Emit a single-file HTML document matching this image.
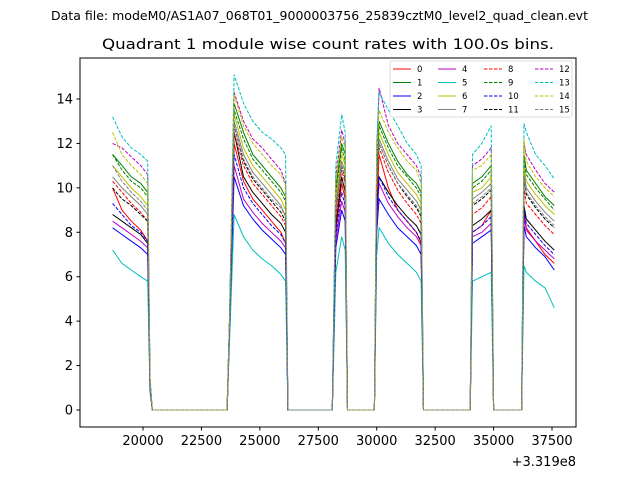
<!DOCTYPE html>
<html><head><meta charset="utf-8"><style>
html,body{margin:0;padding:0;background:#fff;}
svg text{font-family:"DejaVu Sans","Liberation Sans",sans-serif;}
</style></head><body>
<svg id="chart" width="640" height="480" xmlns="http://www.w3.org/2000/svg">
<rect width="640" height="480" fill="#fff"/>
<text x="51" y="20" font-size="12" textLength="537" lengthAdjust="spacingAndGlyphs">Data file: modeM0/AS1A07_068T01_9000003756_25839cztM0_level2_quad_clean.evt</text>
<text x="102" y="49" font-size="14.5" textLength="452" lengthAdjust="spacingAndGlyphs">Quadrant 1 module wise count rates with 100.0s bins.</text>
<g id="plot"></g>
<rect x="80" y="58" width="496" height="369" fill="none" stroke="#000" stroke-width="1"/>
<g id="ticks"></g>
<text x="576" y="466" font-size="13" text-anchor="end">+3.319e8</text>
<g id="legend"></g>
</svg>
<script>
const times=[18700,19100,19500,19900,20200,20300,20400,23600,23700,23900,24300,24700,25100,25500,25900,26100,26200,28100,28250,28500,28650,28750,29900,30000,30100,30500,30900,31300,31700,31900,32000,34000,34100,34500,34900,35000,36200,36300,36400,36800,37200,37600];
const s0=[10,9,8.5,8.1,7.6,1,0,0,3.5,12,10.3,9.5,9,8.5,8,7.5,0,0,8,10.2,9.5,0,0,9,11.5,10,9,8.5,8,7.5,0,0,8,8.3,9,0,0,9,8.2,7.6,7,6.6];
const s1=[11.5,11,10.5,10.2,9.8,1.3,0,0,4,13.8,12.5,11.5,11,10.5,10,9.6,0,0,10,12,11.5,0,0,11,13,12,11.2,10.6,10.2,9.8,0,0,10.2,10.5,11,0,0,11.5,10.8,10.2,9.6,9.2];
const s2=[8.2,7.9,7.6,7.3,7,1,0,0,3.5,10.5,9.2,8.6,8.1,7.7,7.3,7,0,0,7.3,9,8.5,0,0,8,9.5,8.8,8.2,7.8,7.4,7,0,0,7.5,7.8,8.1,0,0,8.3,7.8,7.3,6.9,6.3];
const s3=[8.8,8.5,8.2,7.9,7.5,1,0,0,3.5,12.5,10.5,9.8,9.3,8.8,8.4,8,0,0,8.3,10.5,9.8,0,0,9,10.5,9.8,9.2,8.7,8.3,7.9,0,0,8.3,8.6,9,0,0,9.2,8.6,8.1,7.6,7.2];
const s4=[8.5,8.2,7.9,7.6,7.3,1,0,0,3.5,11,9.5,8.9,8.4,8,7.6,7.3,0,0,7.6,9.4,8.9,0,0,8.4,10.2,9.3,8.7,8.2,7.8,7.4,0,0,7.8,8,8.4,0,0,8.7,8.1,7.6,7.2,6.8];
const s5=[7.2,6.6,6.3,6,5.8,0.8,0,0,3,8.8,7.8,7.2,6.8,6.5,6.1,5.8,0,0,6.2,7.8,7.2,0,0,7,8.2,7.5,7,6.6,6.2,5.8,0,0,5.8,6,6.2,0,0,6.5,6.2,5.8,5.5,4.6];
const s6=[11,10.5,10,9.6,9.2,1.2,0,0,4,13.3,11.8,11,10.5,10,9.5,9,0,0,9.5,11.5,11,0,0,10.5,12.5,11.5,10.7,10.2,9.7,9.3,0,0,9.8,10,10.5,0,0,11,10.3,9.7,9.2,8.8];
const s7=[10.5,10,9.6,9.2,8.8,1.2,0,0,4,13,11.5,10.7,10.2,9.7,9.2,8.7,0,0,9.2,11.2,10.7,0,0,10.2,12.2,11.2,10.4,9.9,9.4,9,0,0,9.5,9.8,10.2,0,0,10.7,10,9.4,8.9,8.5];
const s8=[10.3,9.8,9.3,8.9,8.5,1.1,0,0,4,12.5,11,10.2,9.7,9.2,8.7,8.3,0,0,8.7,10.8,10.2,0,0,9.6,11.8,10.7,9.9,9.3,8.8,8.4,0,0,8.8,9.1,9.6,0,0,10,9.3,8.8,8.3,7.9];
const s9=[11.5,10.8,10.3,10,9.6,1.3,0,0,4,13.5,12.2,11.3,10.8,10.3,9.8,9.4,0,0,9.8,11.8,11.2,0,0,10.8,12.8,11.8,11,10.5,10,9.6,0,0,10,10.3,10.8,0,0,11.3,10.6,10,9.5,9];
const s10=[9.3,8.8,8.3,8,7.6,1,0,0,3.5,11.5,10,9.3,8.8,8.3,7.9,7.5,0,0,7.9,9.8,9.2,0,0,8.7,10.5,9.6,9,8.5,8,7.6,0,0,8,8.3,8.7,0,0,9,8.4,7.9,7.4,7];
const s11=[10,9.5,9.2,8.8,8.5,1.2,0,0,4,12.8,11.2,10.4,9.9,9.4,8.9,8.5,0,0,9,11,10.4,0,0,10,12,11,10.2,9.6,9.1,8.7,0,0,9.2,9.5,9.9,0,0,10.4,9.7,9.1,8.6,8.2];
const s12=[12,11.8,11.4,11,10.6,1.4,0,0,4,14.3,13,12.2,11.8,11.3,10.8,10.2,0,0,10.5,12.6,12,0,0,11.5,14.5,12.8,12,11.5,11,10.5,0,0,11,11.3,11.8,0,0,12,11.5,10.8,10.2,9.8];
const s13=[13.2,12.3,11.8,11.5,11.2,1.5,0,0,4,15.1,13.8,13,12.5,12.2,11.8,11.5,0,0,11,13.3,12.5,0,0,12,14.3,13.5,12.8,12,11.5,11,0,0,11.5,12,12.8,0,0,12.9,12.5,11.5,11,10.4];
const s14=[12.5,11.5,11,10.6,10.2,1.3,0,0,4,14.2,12.8,12,11.5,11,10.6,10.1,0,0,10.3,12.3,11.8,0,0,11.3,13.5,12.5,11.8,11.2,10.8,10.2,0,0,10.8,11,11.5,0,0,12.2,11.2,10.5,10,9.6];
const s15=[11,10.3,9.8,9.4,9,1.2,0,0,4,12.8,11.3,10.5,10,9.5,9.1,8.7,0,0,9,11,10.5,0,0,10,12,11,10.2,9.7,9.2,8.8,0,0,9.3,9.6,10,0,0,10.5,9.8,9.2,8.7,8.3];
const seriesNames=["0","1","2","3","4","5","6","7","8","9","10","11","12","13","14","15"];
const xTicks=[20000,22500,25000,27500,30000,32500,35000,37500];
const yTicks=[0,2,4,6,8,10,12,14];

const allSeries=[s0,s1,s2,s3,s4,s5,s6,s7,s8,s9,s10,s11,s12,s13,s14,s15];
const colors=["#ff0000","#008000","#0000ff","#000000","#bf00bf","#00bfbf","#bfbf00","#808080"];
const NS="http://www.w3.org/2000/svg";
function xs(t){return 143+(t-20000)*(552-143)/17500;}
function ys(v){return 410-v*(410-99)/14;}
function mk(tag,attrs,parent){const e=document.createElementNS(NS,tag);for(const k in attrs)e.setAttribute(k,attrs[k]);parent.appendChild(e);return e;}
const plot=document.getElementById('plot');
allSeries.forEach((s,i)=>{
  const d=s.map((v,j)=>(j?'L':'M')+xs(times[j]).toFixed(1)+','+ys(v).toFixed(1)).join('');
  const p=mk('path',{d:d,fill:'none',stroke:colors[i%8],'stroke-width':1,'stroke-dasharray':i>=8?'3.5,1.5':'none'},plot);
  
  
});
const tk=document.getElementById('ticks');
xTicks.forEach(t=>{
  const x=xs(t);
  const l=mk('line',{x1:x,x2:x,y1:427,y2:430.5,stroke:'#000'},tk);
  
  
  const tx=mk('text',{x:x,y:445,'font-size':13,'text-anchor':'middle'},tk);
  tx.textContent=t;
  
  
});
yTicks.forEach(v=>{
  const y=ys(v);
  const l=mk('line',{x1:76.5,x2:80,y1:y,y2:y,stroke:'#000'},tk);
  
  
  const tx=mk('text',{x:73,y:y+4.5,'font-size':13,'text-anchor':'end'},tk);
  tx.textContent=v;
  
  
});
const lg=document.getElementById('legend');
mk('rect',{x:390,y:61,width:182,height:56,fill:'#fff',stroke:'#ddd',rx:2},lg);
const colX=[393,438,484,535],rowY=[69,82.5,96,109.5];
seriesNames.forEach((n,i)=>{
  const c=Math.floor(i/4),r=i%4;
  const l=mk('line',{x1:colX[c],x2:colX[c]+18,y1:rowY[r],y2:rowY[r],stroke:colors[i%8],'stroke-width':1,'stroke-dasharray':i>=8?'3.5,1.5':'none'},lg);
  
  
  const t=mk('text',{x:colX[c]+24,y:rowY[r]+3,'font-size':8.5},lg);
  t.textContent=n;
  
  
});
</script>
</body></html>
